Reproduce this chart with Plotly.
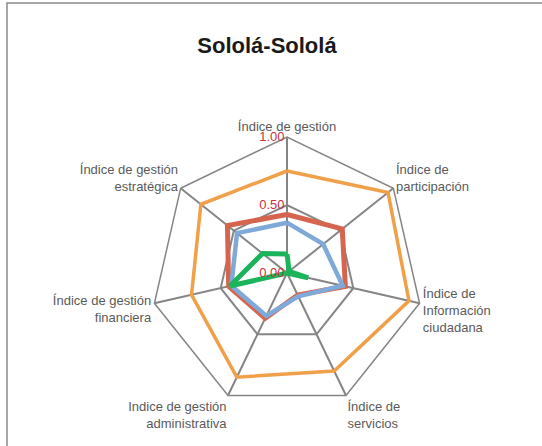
import plotly.graph_objects as go

categories = [
    "Índice de gestión",
    "Índice de<br>participación",
    "Índice de<br>Información<br>ciudadana",
    "Índice de<br>servicios",
    "Indice de gestión<br>administrativa",
    "Índice de gestión<br>financiera",
    "Índice de gestión<br>estratégica",
]
orange_vals = [0.75, 0.95, 0.92, 0.80, 0.85, 0.72, 0.81]
red_vals = [0.43, 0.52, 0.44, 0.18, 0.37, 0.44, 0.56]
blue_vals = [0.37, 0.34, 0.42, 0.19, 0.35, 0.42, 0.47]
green_vals = [0.14, 0.02, 0.16, 0.0, 0.0, 0.43, 0.23]
radial_ticks = [0.0, 0.5, 1.0]
radial_ticklabels = ["0.00", "0.50", "1.00"]

series = [
    ("Serie 1", orange_vals, "#F1A04A", 3.5),
    ("Serie 2", red_vals, "#D5654E", 5),
    ("Serie 3", blue_vals, "#7FA9D9", 4.5),
    ("Serie 4", green_vals, "#1BB45A", 5),
]

W, H = 542, 446
cx, cy, R = 287, 273, 136

fig = go.Figure()
for name, vals, color, w in series:
    fig.add_trace(go.Scatterpolar(
        r=vals + vals[:1],
        theta=categories + categories[:1],
        mode="lines",
        name=name,
        line=dict(color=color, width=w),
        showlegend=False,
    ))

fig.update_layout(
    width=W, height=H,
    margin=dict(l=0, r=0, t=0, b=0),
    paper_bgcolor="white",
    plot_bgcolor="white",
    title=dict(
        text="<b>Sololá-Sololá</b>",
        x=267 / W, xanchor="center",
        y=1 - 45 / H, yanchor="middle",
        font=dict(family="Liberation Sans, Arial, sans-serif", size=22, color="#1a1a1a"),
    ),
    polar=dict(
        domain=dict(x=[(cx - R) / W, (cx + R) / W],
                    y=[1 - (cy + R) / H, 1 - (cy - R) / H]),
        bgcolor="white",
        gridshape="linear",
        angularaxis=dict(
            direction="clockwise",
            rotation=90,
            showline=True,
            linecolor="#858585",
            linewidth=1.5,
            gridcolor="#858585",
            gridwidth=1.5,
            ticks="",
            tickfont=dict(family="Liberation Sans, Arial, sans-serif", size=13, color="#5a5a5a"),
        ),
        radialaxis=dict(
            range=[0, 1],
            angle=90,
            tickangle=90,
            side="counterclockwise",
            tickvals=radial_ticks,
            ticktext=radial_ticklabels,
            showline=False,
            gridcolor="#858585",
            gridwidth=1.5,
            ticks="",
            tickfont=dict(family="Liberation Sans, Arial, sans-serif", size=13, color="#C8323A"),
        ),
    ),
    shapes=[dict(
        type="rect", xref="paper", yref="paper",
        x0=7 / W, x1=1.05, y0=-0.05, y1=1 - 3 / H,
        line=dict(color="#8a8a8a", width=1.5),
        fillcolor="rgba(0,0,0,0)",
    )],
)

fig.write_html(
    "out.html",
    config={"displayModeBar": False},
    post_script="document.body.style.margin='0';document.body.style.overflow='hidden';",
)
